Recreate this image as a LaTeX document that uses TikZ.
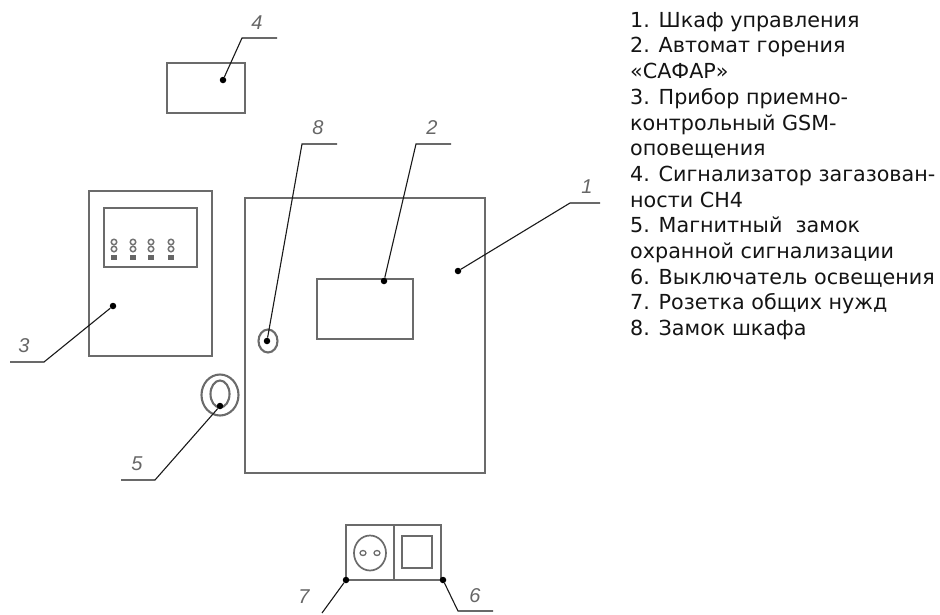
\documentclass[tikz,border=0pt]{standalone}
\usepackage{fontspec}
\setmainfont{DejaVu Sans}
\newfontfamily\callfont{Liberation Sans}
\usetikzlibrary{shapes}
\usetikzlibrary{arrows}

\begin{document}
\begin{tikzpicture}[x=1pt,y=-1pt,
					part/.style={draw=black!58,line width=2.1pt,inner sep=0pt,outer sep=0pt},
					round/.style={part,ellipse},
					pin/.style={circle,fill=black,inner sep=0pt,minimum size=6.5pt},
					leader/.style={draw=black!90,line width=1.1pt},
					call/.style={font=\callfont\itshape\fontsize{20}{20}\selectfont,text=black!60,inner sep=0pt},
					lamp/.style={circle,draw=black!55,line width=1.5pt,inner sep=0pt,minimum size=5.5pt}
					]
					\useasboundingbox (0,0) rectangle (940,614);
					\node[part,minimum width=78pt,minimum height=50pt] (sensor) at (206,88) {};
					\node[part,minimum width=123pt,minimum height=165pt] (panel) at (150.5,273.5) {};
					\node[part,minimum width=93pt,minimum height=59pt] (screen) at (150.5,237.5) {};
					\node[part,minimum width=240pt,minimum height=275pt] (cabinet) at (365,335.5) {};
					\node[part,minimum width=96pt,minimum height=60pt] (safar) at (365,309) {};
					\node[round,minimum width=19pt,minimum height=23pt] (lock) at (268,341) {};
					\node[round,minimum width=37pt,minimum height=41pt] (magnetout) at (220,395) {};
					\node[round,minimum width=19pt,minimum height=27pt] (magnetin) at (220,394) {};
					\node[part,minimum width=48pt,minimum height=55pt] (socketbox) at (370,552.5) {};
					\node[part,minimum width=47pt,minimum height=55pt] (switchbox) at (417.5,552.5) {};
					\node[round,minimum width=32pt,minimum height=35pt,line width=1.7pt] (socket) at (370,553) {};
					\node[round,minimum width=6pt,minimum height=5pt,line width=1.3pt] (holea) at (363,553) {};
					\node[round,minimum width=6pt,minimum height=5pt,line width=1.3pt] (holeb) at (377,553) {};
					\node[part,minimum width=30pt,minimum height=32pt,line width=1.8pt] (key) at (417,552) {};
					\foreach \x in {114,133,151,171}{
						\node[lamp] (lampa\x) at (\x,242) {};
						\node[lamp] (lampb\x) at (\x,249) {};
						\node[fill=black!60,inner sep=0pt,minimum width=6pt,minimum height=4.5pt] (lampc\x) at (\x,257.5) {};
					}
					\node[pin] (pin1) at (458,271) {};
					\node[pin] (pin2) at (384,281) {};
					\node[pin] (pin3) at (113,306) {};
					\node[pin] (pin4) at (223,80) {};
					\node[pin] (pin5) at (220,406) {};
					\node[pin] (pin6) at (443,580) {};
					\node[pin] (pin7) at (346,580) {};
					\node[pin] (pin8) at (267,341) {};
					\draw[leader] (pin1) -- (570,203) coordinate (bend1) -- (600,203) coordinate (end1);
					\draw[leader] (pin2) -- (416,144) coordinate (bend2) -- (451,144) coordinate (end2);
					\draw[leader] (pin3) -- (44,362) coordinate (bend3) -- (10,362) coordinate (end3);
					\draw[leader] (pin4) -- (242,38) coordinate (bend4) -- (277,38) coordinate (end4);
					\draw[leader] (pin5) -- (155,480) coordinate (bend5) -- (121,480) coordinate (end5);
					\draw[leader] (pin6) -- (458,611) coordinate (bend6) -- (493,611) coordinate (end6);
					\draw[leader] (pin7) -- (322,613) coordinate (end7);
					\draw[leader] (pin8) -- (302,144) coordinate (bend8) -- (337,144) coordinate (end8);
					\node[call] (call1) at (587,187) {1};
					\node[call] (call2) at (432,128) {2};
					\node[call] (call3) at (24,346) {3};
					\node[call] (call4) at (257,23) {4};
					\node[call] (call5) at (137,464) {5};
					\node[call] (call6) at (475,596) {6};
					\node[call] (call7) at (304,597) {7};
					\node[call] (call8) at (318,128) {8};
					\node[anchor=north west,align=left,inner sep=0pt,text=black!92,font=\fontsize{20.7}{25.7}\selectfont] (legend) at (630,12) {%
						1. Шкаф управления\\
						2. Автомат горения\\
						«САФАР»\\
						3. Прибор приемно-\\
						контрольный GSM-\\
						оповещения\\
						4. Сигнализатор загазован-\\
						ности СН4\\
						5. Магнитный\ \ замок\\
						охранной сигнализации\\
						6. Выключатель освещения\\
						7. Розетка общих нужд\\
						8. Замок шкафа};
\end{tikzpicture}
\end{document}
